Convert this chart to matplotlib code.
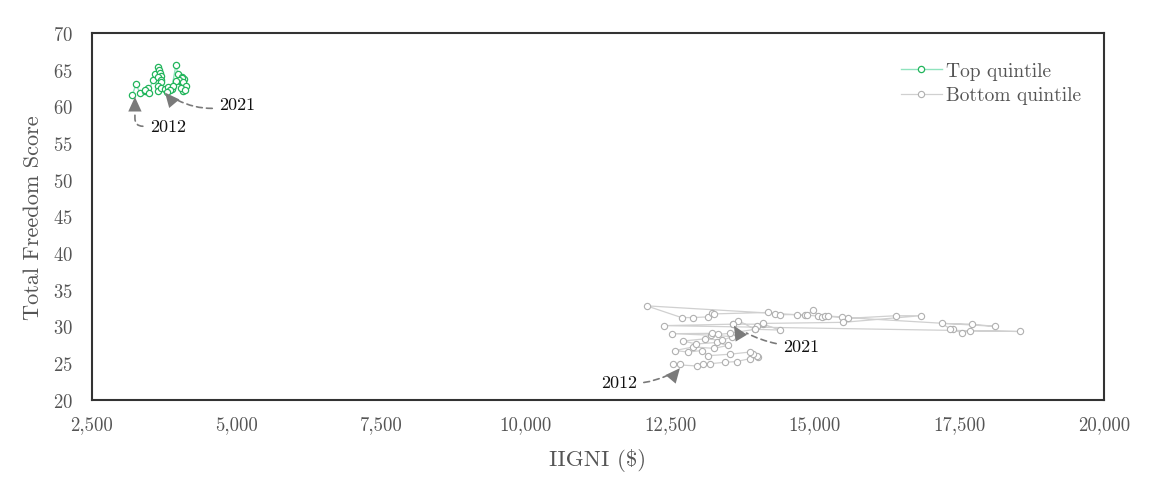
import numpy as np
import matplotlib.pyplot as plt

plt.rcParams["font.family"] = ["cmr10", "DejaVu Serif"]
plt.rcParams["axes.formatter.use_mathtext"] = True

# Top quintile path, 2012 -> 2021
top_x = [3200, 3260, 3330, 3420, 3470, 3420, 3480, 3550, 3590, 3650,
         3660, 3680, 3700, 3640, 3690, 3700, 3650, 3640, 3700, 3760,
         3820, 3880, 3950, 3990, 4050, 4020, 4100, 4060, 4010, 4080,
         4130, 4080, 4040, 4110, 3950, 3900, 3850, 3800]
top_y = [61.6, 63.0, 61.9, 62.1, 62.5, 62.3, 61.9, 63.6, 64.4, 65.4,
         65.0, 64.6, 64.2, 64.0, 63.6, 63.3, 62.8, 62.1, 62.5, 62.4,
         62.6, 62.4, 65.6, 64.4, 64.0, 63.5, 63.7, 63.9, 63.6, 63.3,
         62.8, 62.1, 62.5, 62.2, 63.5, 62.8, 62.3, 62.0]

# Bottom quintile path, 2012 -> 2021
bot_x = [12667, 12540, 12955, 13070, 13185, 13444, 13646, 13877, 14020, 13992,
         13935, 13877, 13531, 13155, 13040, 12810, 12580, 12900, 13250, 13500,
         13300, 12950, 12720, 13100, 13400, 13570, 13200, 12533, 13214, 13330,
         13531, 13963, 14397, 14107, 13589, 12390, 18545, 17680, 17537, 17392,
         17334, 17190, 17709, 18113, 12091, 12695, 12896, 13155, 13214, 13254,
         14194, 14310, 14397, 14685, 14827, 14868, 14970, 15057, 15115, 15173,
         15230, 15461, 15576, 16400, 16827, 15490, 14107, 13992, 13963, 13675,
         13589]
bot_y = [24.9, 24.8, 24.6, 24.8, 24.9, 25.1, 25.2, 25.6, 25.8, 26.0,
         26.2, 26.5, 26.2, 26.0, 26.7, 26.5, 26.7, 27.2, 27.0, 27.4,
         27.8, 27.6, 28.0, 28.3, 28.1, 28.6, 28.8, 29.0, 29.05, 28.9,
         29.05, 29.6, 29.5, 30.3, 30.3, 30.1, 29.3, 29.4, 29.1, 29.6,
         29.7, 30.4, 30.3, 30.0, 32.8, 31.2, 31.2, 31.3, 31.8, 31.7,
         31.9, 31.7, 31.6, 31.6, 31.55, 31.55, 32.3, 31.4, 31.3, 31.45,
         31.4, 31.3, 31.1, 31.45, 31.45, 30.55, 30.4, 30.1, 29.6, 30.8,
         30.3]

# annotations: (label, text position, arrow tip, head angle in degrees, connector)
notes = [
    ("2012", (3500, 57.3), (3243, 61.3), 90, "angle,angleA=180,angleB=90,rad=8"),
    ("2021", (4700, 60.3), (3762, 61.9), 130, "arc3,rad=-0.25"),
    ("2012", (11300, 22.4), (12667, 24.3), 50, "arc3,rad=0.2"),
    ("2021", (14450, 27.3), (13600, 30.1), 121, "arc3,rad=-0.15"),
]
HEAD = 10.5  # head length in points
ARROW_GREY = "#7a7a7a"

fig = plt.figure(figsize=(11.7, 4.81), dpi=100)
ax = fig.add_axes([0.0786, 0.167, 0.865, 0.762])

ax.plot(top_x, top_y, color="#8fe3bd", lw=1.0, marker="o", ms=4.5,
        mfc="white", mec="#22b55c", mew=0.9, label="Top quintile")
ax.plot(bot_x, bot_y, color="#d0d0d0", lw=0.9, marker="o", ms=4.5,
        mfc="white", mec="#b0b0b0", mew=0.8, label="Bottom quintile")

for label, txt, tip, ang, conn in notes:
    # dashed shaft, stopping at the base of the head
    ax.annotate(label, xy=tip, xytext=txt, fontsize=13, color="#111111",
                ha="left", va="center",
                arrowprops=dict(arrowstyle="-", color=ARROW_GREY, lw=1.2,
                                ls=(0, (3.5, 2.5)), shrinkA=3, shrinkB=HEAD,
                                connectionstyle=conn))
    # solid triangular head
    a = np.radians(ang)
    ax.annotate("", xy=tip, xytext=(-HEAD * np.cos(a), -HEAD * np.sin(a)),
                textcoords="offset points",
                arrowprops=dict(arrowstyle="-|>,head_length=0.525,head_width=0.24",
                                mutation_scale=20, color=ARROW_GREY, lw=0,
                                shrinkA=0, shrinkB=0))

ax.set_xlim(2500, 20000)
ax.set_ylim(20, 70)
ax.set_xticks(range(2500, 20001, 2500))
ax.set_yticks(range(20, 71, 5))
ax.set_xticklabels([f"{v:,}" for v in range(2500, 20001, 2500)])
ax.tick_params(length=0, labelsize=13.5, labelcolor="#555555")
ax.tick_params(axis="x", pad=11)
ax.tick_params(axis="y", pad=14)

ax.set_xlabel("IIGNI ($)", fontsize=16.5, color="#555555", labelpad=11)
ax.set_ylabel("Total Freedom Score", fontsize=16, color="#555555", labelpad=7)

for s in ax.spines.values():
    s.set_color("#333333")
    s.set_linewidth(1.5)

ax.legend(loc="upper right", frameon=False, fontsize=14, handlelength=2.1,
          labelcolor="#555555", bbox_to_anchor=(0.995, 0.97), handletextpad=0.25,
          labelspacing=0.35)

fig.savefig("out.png", dpi=100)
